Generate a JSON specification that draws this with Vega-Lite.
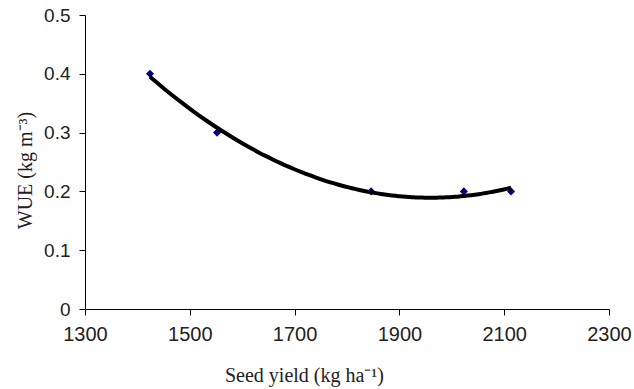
{
  "$schema": "https://vega.github.io/schema/vega-lite/v6.json",
  "autosize": {"type": "none"},
  "width": 524,
  "height": 294,
  "padding": {"left": 85, "top": 15, "right": 25, "bottom": 80},
  "background": "white",
  "config": {"view": {"stroke": null}},
  "data": {"values": [
    {"yield": 1424, "wue": 0.4},
    {"yield": 1552, "wue": 0.3},
    {"yield": 1846, "wue": 0.2},
    {"yield": 2023, "wue": 0.2},
    {"yield": 2113, "wue": 0.2}
  ]},
  "encoding": {
    "x": {
      "field": "yield", "type": "quantitative",
      "scale": {"domain": [1300, 2300], "nice": false, "zero": false},
      "axis": {
        "values": [1300, 1500, 1700, 1900, 2100, 2300], "format": "d",
        "grid": false, "tickSize": 6, "tickColor": "black", "domainColor": "black",
        "labelFont": "Liberation Sans", "labelFontSize": 20, "labelColor": "#222", "labelPadding": 9,
        "labelFlush": false,
        "title": "Seed yield (kg ha⁻¹)", "titleFont": "Liberation Serif", "titleFontSize": 20,
        "titleFontWeight": "normal", "titleColor": "#222",
        "titleX": 219, "titleY": 72, "titleBaseline": "alphabetic", "titleAlign": "center"
      }
    },
    "y": {
      "field": "wue", "type": "quantitative",
      "scale": {"domain": [0, 0.5], "nice": false},
      "axis": {
        "values": [0, 0.1, 0.2, 0.3, 0.4, 0.5], "format": ".1~f",
        "grid": false, "tickSize": 6, "tickColor": "black", "domainColor": "black",
        "labelFont": "Liberation Sans", "labelFontSize": 19, "labelColor": "#222", "labelPadding": 9,
        "labelFlush": false,
        "title": "WUE (kg m⁻³)", "titleFont": "Liberation Serif", "titleFontSize": 20,
        "titleFontWeight": "normal", "titleColor": "#222",
        "titleX": -60, "titleY": 155, "titleBaseline": "middle", "titleAlign": "center", "titleAngle": -90
      }
    }
  },
  "layer": [
    {
      "mark": {"type": "point", "shape": "diamond", "filled": true, "color": "#000080", "size": 65, "opacity": 1}
    },
    {
      "transform": [{"regression": "wue", "on": "yield", "method": "poly", "order": 2}],
      "mark": {"type": "line", "color": "black", "strokeWidth": 4, "interpolate": "monotone"}
    }
  ]
}
